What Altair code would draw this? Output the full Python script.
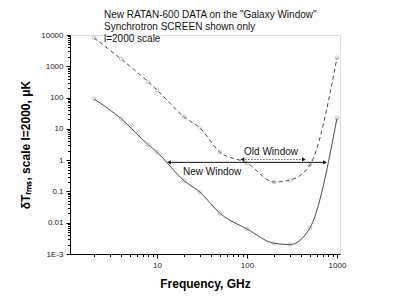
import altair as alt
import pandas as pd

freq = [2, 4, 8, 10, 20, 30, 50, 100, 200, 300, 500, 1000]
upper = [8000, 1700, 316, 175, 24, 10.7, 1.8, 0.81, 0.2, 0.23, 0.7, 1860]
lower = [91, 21, 3.1, 1.8, 0.22, 0.095, 0.02, 0.0063, 0.0022, 0.002, 0.0068, 22]

title_lines = ['New RATAN-600 DATA on the "Galaxy Window"',
               'Synchrotron SCREEN shown only',
               'l=2000 scale']

# windows: label, start, end, level
win_label = ["New Window", "Old Window"]
win_start = [13.6, 89]
win_end = [735, 428]
win_level = [0.85, 1.05]
win_text_x = [41, 185]
win_text_y = [0.42, 1.8]

x_ticks = [m * 10 ** e for e in range(0, 3) for m in range(2, 11)]
y_ticks = [0.001] + [round(m * 10 ** e, 6) for e in range(-3, 4) for m in range(2, 11)]

FONT = "Liberation Sans"

up_df = pd.DataFrame({"f": freq, "v": upper})
lo_df = pd.DataFrame({"f": freq, "v": lower})
all_df = pd.concat([up_df, lo_df], ignore_index=True)

new_df = pd.DataFrame({"label": [win_label[0]], "x1": [win_start[0]], "x2": [win_end[0]],
                       "y": [win_level[0]], "tx": [win_text_x[0]], "ty": [win_text_y[0]]})
old_df = pd.DataFrame({"label": [win_label[1]], "x1": [win_start[1]], "x2": [win_end[1]],
                       "y": [win_level[1]], "tx": [win_text_x[1]], "ty": [win_text_y[1]]})
win_df = pd.concat([new_df, old_df], ignore_index=True)
heads = pd.DataFrame({
    "x": [win_start[0], win_end[0], win_start[1], win_end[1]],
    "y": [win_level[0], win_level[0], win_level[1], win_level[1]],
    "shape": ["triangle-left", "triangle-right", "triangle-left", "triangle-right"],
})

major_test_x = "indexof([10,100,1000], datum.value) >= 0"
major_test_y = "abs(log(datum.value)/LN10 - round(log(datum.value)/LN10)) < 1e-6"

xscale = alt.Scale(type="log", domain=[1.08, 1080], nice=False)
yscale = alt.Scale(type="log", domain=[0.001, 10000], nice=False)

xaxis = alt.Axis(
    title="Frequency, GHz", values=x_ticks,
    labelExpr="indexof([10,100,1000], datum.value) >= 0 ? '' + datum.value : ''",
    tickSize={"condition": {"test": major_test_x, "value": 4}, "value": 2.5},
    grid=False, domainColor="black", tickColor="black", labelColor="#222",
    labelFont=FONT, labelFontSize=8, titleFont=FONT, titleFontSize=12,
    titleFontWeight="bold", titleColor="black", titlePadding=9, labelPadding=3,
    labelFlush=False,
)
yaxis = alt.Axis(
    title="δTᵣₘₛ, scale l=2000, μK", values=y_ticks,
    labelExpr="datum.value < 0.0015 ? '1E-3' : (abs(log(datum.value)/LN10 - round(log(datum.value)/LN10)) < 1e-6 ? '' + datum.value : '')",
    tickSize={"condition": {"test": major_test_y, "value": 4}, "value": 2.5},
    grid=False, domainColor="black", tickColor="black", labelColor="#222",
    labelFont=FONT, labelFontSize=8, titleFont=FONT, titleFontSize=12,
    titleFontWeight="bold", titleColor="black", titlePadding=8, labelPadding=3,
    labelFlush=False,
)

X = lambda f: alt.X(f, scale=xscale)
Y = lambda f: alt.Y(f, scale=yscale)

line_up = alt.Chart(up_df).mark_line(interpolate="monotone", strokeWidth=0.9, color="#333",
                                     strokeDash=[4, 3]).encode(
    x=alt.X("f:Q", scale=xscale, axis=xaxis),
    y=alt.Y("v:Q", scale=yscale, axis=yaxis),
)
line_lo = alt.Chart(lo_df).mark_line(interpolate="monotone", strokeWidth=0.9, color="#333").encode(
    x=X("f:Q"), y=Y("v:Q"))
points = alt.Chart(all_df).mark_point(shape="circle", size=14, filled=False, color="#888",
                                      strokeWidth=0.7).encode(x=X("f:Q"), y=Y("v:Q"))
rule_new = alt.Chart(new_df).mark_rule(color="#111", strokeWidth=1).encode(
    x=X("x1:Q"), x2="x2:Q", y=Y("y:Q"))
rule_old = alt.Chart(old_df).mark_rule(color="#111", strokeWidth=1, strokeDash=[1, 2]).encode(
    x=X("x1:Q"), x2="x2:Q", y=Y("y:Q"))
texts = alt.Chart(win_df).mark_text(font=FONT, fontSize=10, color="#111").encode(
    x=X("tx:Q"), y=Y("ty:Q"), text="label:N")
arrowheads = alt.Chart(heads).mark_point(filled=True, color="#111", size=18, opacity=1).encode(
    x=X("x:Q"), y=Y("y:Q"),
    shape=alt.Shape("shape:N", scale=None),
)

chart = alt.layer(line_up, line_lo, points, rule_new, rule_old, arrowheads, texts).properties(
    width=270, height=219,
    autosize=alt.AutoSizeParams(type="none"),
    padding={"left": 62, "top": 27, "right": 46, "bottom": 43},
    title=alt.TitleParams(text=title_lines, anchor="start", dx=34, fontSize=10,
                          font=FONT, fontWeight="normal", lineHeight=12,
                          color="#111", offset=-13, frame="group"),
).configure_view(stroke=None).configure(background="white")

chart.save("out.html", embed_options={"renderer": "svg", "actions": False})
